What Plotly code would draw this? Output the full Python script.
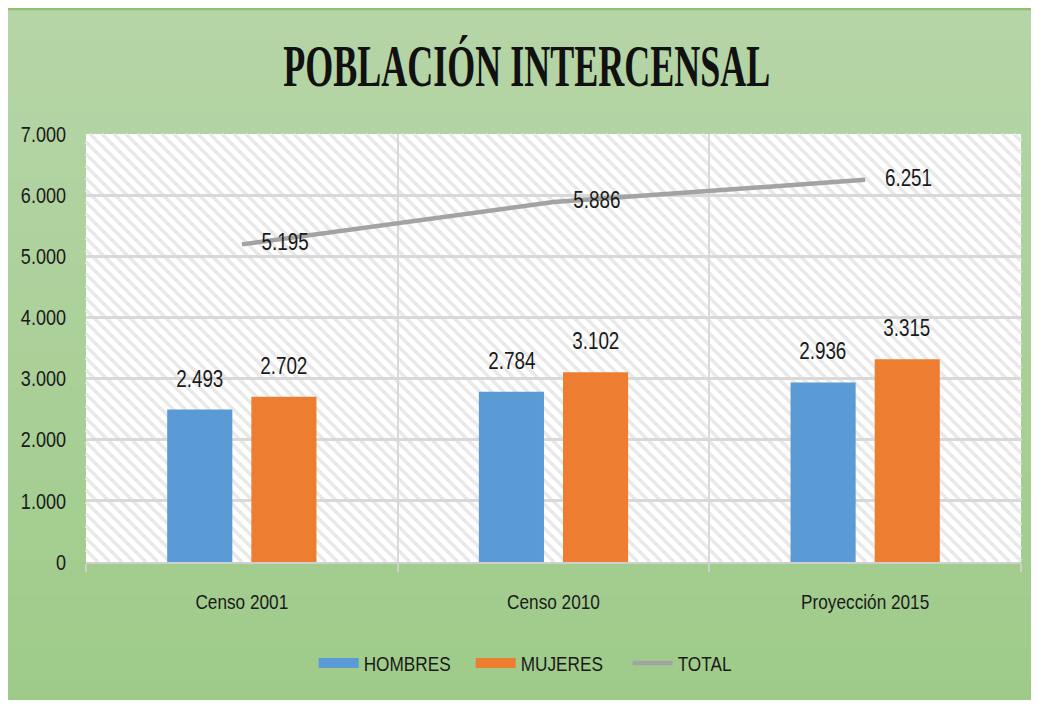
import plotly.graph_objects as go

# ---------------- data ----------------
categories = ["Censo 2001", "Censo 2010", "Proyección 2015"]
hombres = [2493, 2784, 2936]
mujeres = [2702, 3102, 3315]
total = [5195, 5886, 6251]
y_ticks = [0, 1000, 2000, 3000, 4000, 5000, 6000, 7000]

title_text = "POBLACIÓN INTERCENSAL"

def fmt(v):
    return f"{v:,}".replace(",", ".")

SANS = "Liberation Sans, Arial, sans-serif"
TXT = "#1a1a1a"
BLUE = "#5B9BD5"
ORANGE = "#ED7D31"
GRAY = "#a3a3a3"

W, H = 1023, 692
ML, MR, MT, MB = 78, 10, 126, 138
PW, PH = W - ML - MR, H - MT - MB

fig = go.Figure()

fig.add_trace(go.Bar(
    x=categories, y=hombres, name="HOMBRES", showlegend=False,
    marker=dict(color=BLUE, line=dict(width=0)),
))
fig.add_trace(go.Bar(
    x=categories, y=mujeres, name="MUJERES", showlegend=False,
    marker=dict(color=ORANGE, line=dict(width=0)),
))
# legend-only swatches (wide rectangles like the original)
fig.add_trace(go.Scatter(x=[None], y=[None], mode="lines", name="HOMBRES",
                         line=dict(color=BLUE, width=16)))
fig.add_trace(go.Scatter(x=[None], y=[None], mode="lines", name="MUJERES",
                         line=dict(color=ORANGE, width=16)))
fig.add_trace(go.Scatter(
    x=categories, y=total, name="TOTAL",
    mode="lines+markers+text",
    line=dict(color=GRAY, width=4.5),
    marker=dict(size=30, color="rgba(0,0,0,0)"),
    text=[fmt(v) for v in total],
    textposition="middle right",
    textfont=dict(family=SANS, size=23, color=TXT),
    cliponaxis=False,
))

# bar value labels
ann = []
for series, shift in ((hombres, -42), (mujeres, 42)):
    for c, v in zip(categories, series):
        ann.append(dict(
            x=c, y=v, xref="x", yref="y", text=fmt(v), showarrow=False,
            xshift=shift, yshift=31, yanchor="middle",
            font=dict(family=SANS, size=23, color=TXT),
        ))

# ---------------- background decorations ----------------
shapes = []
top_c = (182, 213, 167)
bot_c = (159, 203, 138)
y_top = (PH + MT) / PH
y_bot = -MB / PH
n = 40
for i in range(n):
    f = i / (n - 1)
    col = tuple(round(top_c[k] + (bot_c[k] - top_c[k]) * f) for k in range(3))
    y1 = y_top - (y_top - y_bot) * i / n
    y0 = y_top - (y_top - y_bot) * (i + 1) / n
    shapes.append(dict(
        type="rect", xref="paper", yref="paper", layer="below",
        x0=-0.2, x1=1.2, y0=y0 - 0.002, y1=y1 + 0.002,
        fillcolor="rgb(%d,%d,%d)" % col, line=dict(width=0),
    ))
shapes.append(dict(type="line", xref="paper", yref="paper", layer="below",
                   x0=-0.2, x1=1.2, y0=y_top - 0.002, y1=y_top - 0.002,
                   line=dict(color="#8fbf73", width=3)))
shapes.append(dict(type="rect", xref="paper", yref="paper", layer="below",
                   x0=0, x1=1, y0=0, y1=1, fillcolor="white", line=dict(width=0)))
step = 12
path = []
c = -PH
while c <= PW:
    px0 = max(c, 0)
    px1 = min(c + PH, PW)
    if px1 > px0:
        x0, y0 = px0 / PW, 1 - (px0 - c) / PH
        x1, y1 = px1 / PW, 1 - (px1 - c) / PH
        path.append(f"M{x0:.5f},{y0:.5f}L{x1:.5f},{y1:.5f}")
    c += step
shapes.append(dict(type="path", xref="paper", yref="paper", layer="below",
                   path="".join(path), line=dict(color="#e9e9e9", width=3.5)))

fig.update_layout(
    width=W, height=H,
    margin=dict(l=ML, r=MR, t=MT, b=MB, autoexpand=False),
    paper_bgcolor="#acd29a",
    plot_bgcolor="rgba(0,0,0,0)",
    separators=",.",
    barmode="group", bargap=0.46, bargroupgap=0.226,
    title=dict(
        text=title_text, xref="container", yref="container",
        x=0.507, y=0.918, xanchor="center", yanchor="middle",
        font=dict(family="Liberation Serif, Times New Roman, serif", size=60,
                  color="#111111", weight="bold"),
    ),
    xaxis=dict(
        type="category", tickson="boundaries",
        showgrid=True, gridcolor="#d9d9d9", gridwidth=2,
        showline=True, linecolor="#cfcfcf", linewidth=2,
        ticks="outside", ticklen=8, tickcolor="#d0d0d0", tickwidth=2,
        tickfont=dict(family=SANS, size=21, color=TXT),
        ticklabelstandoff=20, automargin=False,
        fixedrange=True,
    ),
    yaxis=dict(
        range=[0, 7000], tickvals=y_ticks, tickformat=",d",
        showgrid=True, gridcolor="#d9d9d9", gridwidth=2.5,
        zeroline=False, showline=False, ticks="",
        tickfont=dict(family=SANS, size=22, color=TXT),
        ticklabelstandoff=19, automargin=False,
        fixedrange=True,
    ),
    legend=dict(
        orientation="h", xref="container", yref="container",
        x=0.529, y=0.053, xanchor="center", yanchor="middle",
        font=dict(family=SANS, size=21, color=TXT),
        bgcolor="rgba(0,0,0,0)", itemwidth=40,
        entrywidth=102, entrywidthmode="pixels",
    ),
    annotations=ann,
    shapes=shapes,
    showlegend=True,
)

# condense text horizontally (the original uses narrow typefaces)
post = """
document.querySelectorAll('svg text').forEach(function(t){
  if(!t.textContent) return;
  var s = t.classList.contains('gtitle') ? 0.6 : 0.82;
  var bb = t.getBBox();
  var a = t.getAttribute('text-anchor') || 'start';
  var cx = a==='middle' ? bb.x+bb.width/2 : (a==='end' ? bb.x+bb.width : bb.x);
  var ex = t.getAttribute('transform') || '';
  t.setAttribute('transform', ex+' translate('+cx+',0) scale('+s+',1) translate('+(-cx)+',0)');
});
"""

fig.write_html("out.html", post_script=post, config={"displayModeBar": False})
